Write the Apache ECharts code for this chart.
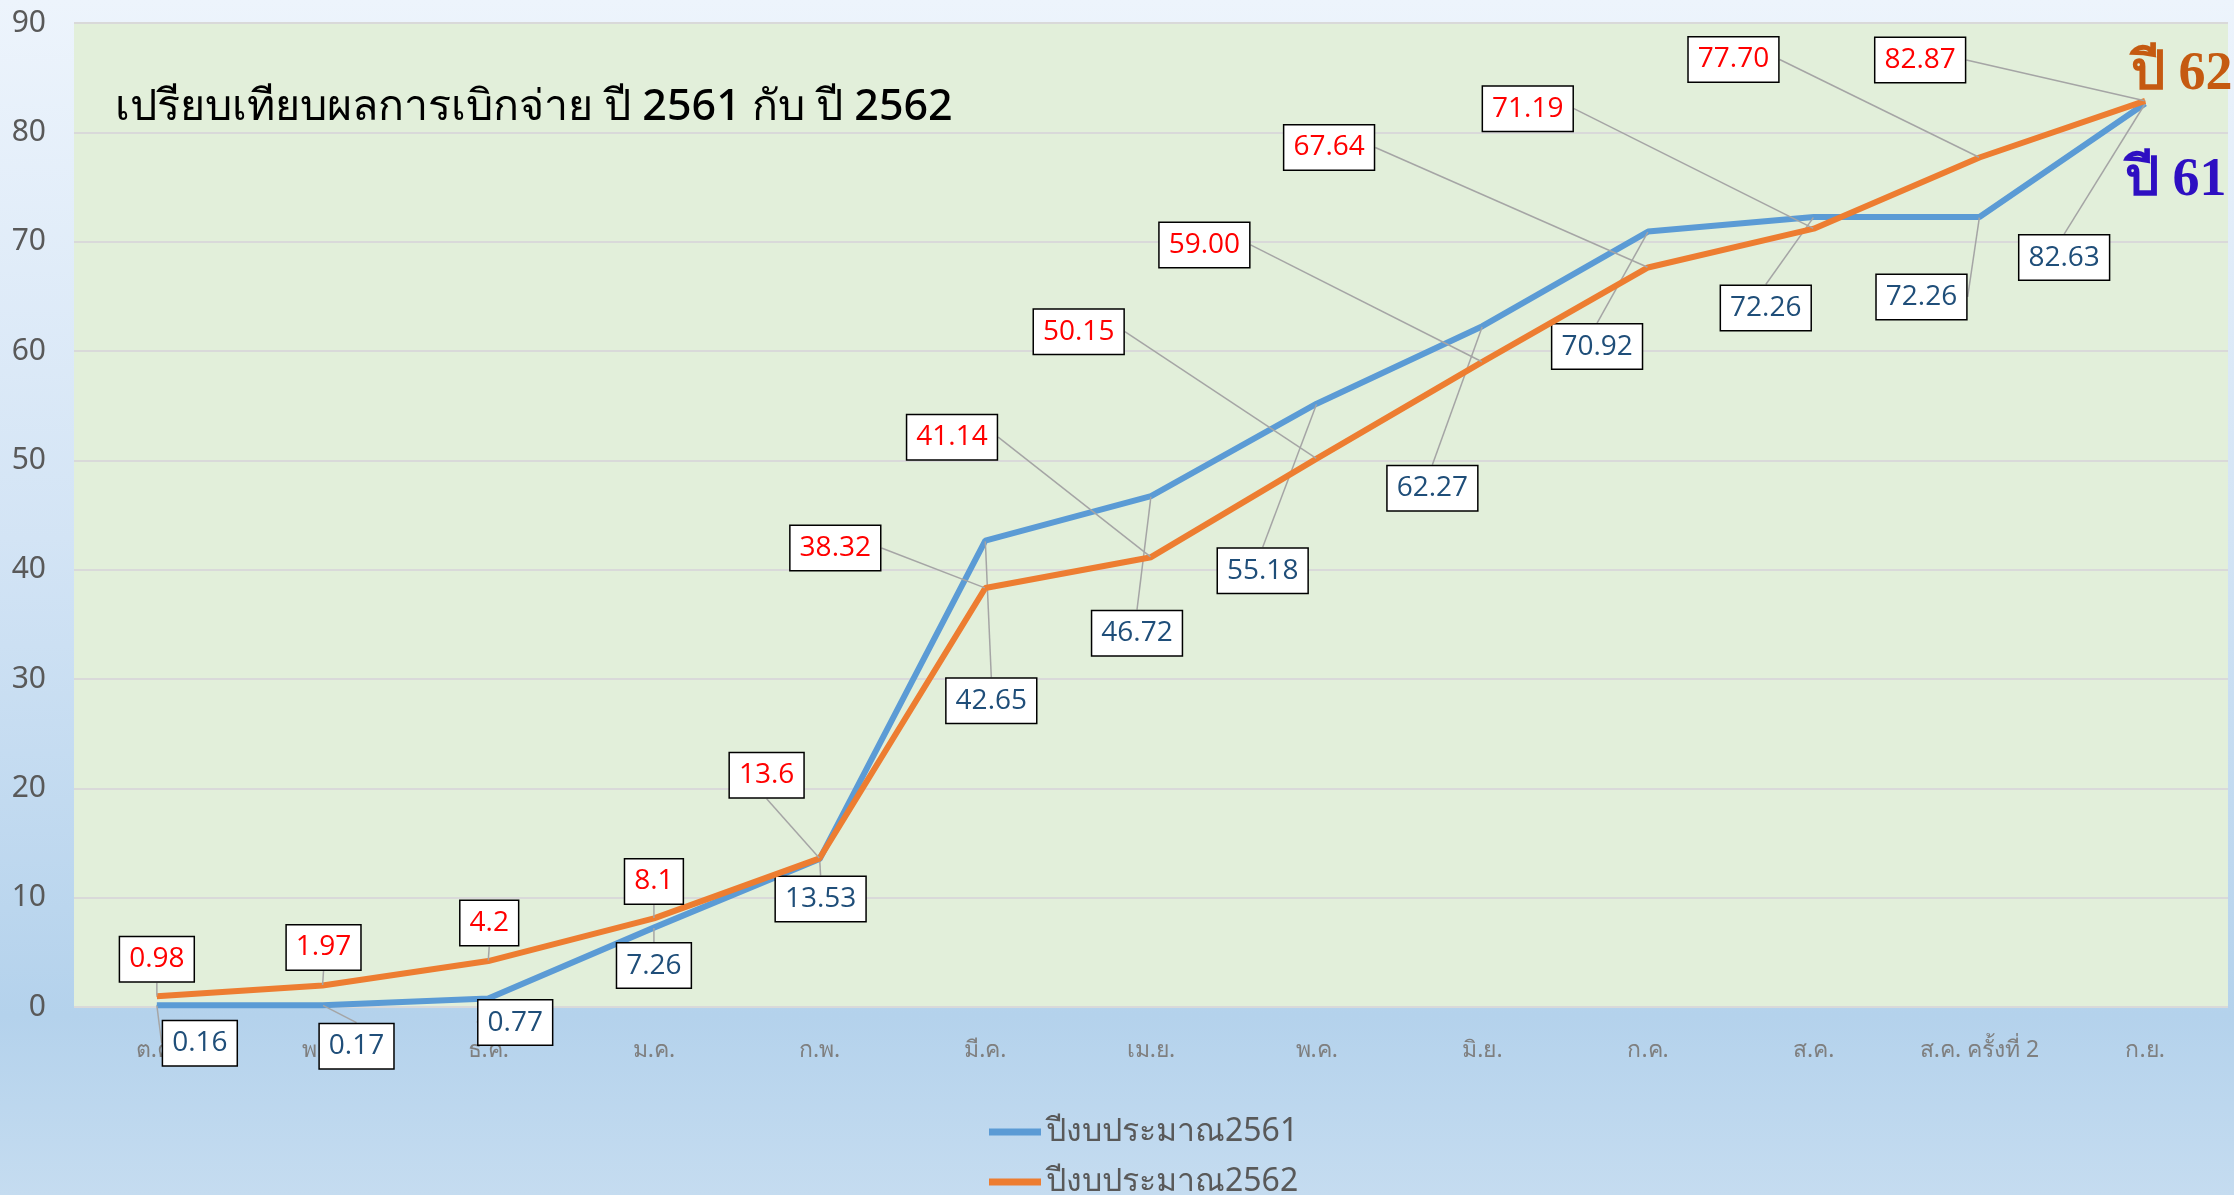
<!DOCTYPE html>
<html>
<head>
<meta charset="utf-8">
<script src="https://cdn.jsdelivr.net/npm/echarts@6/dist/echarts.min.js"></script>
<style>
html,body{margin:0;padding:0;}
#c{width:2234px;height:1195px;}
</style>
</head>
<body>
<div id="c"></div>
<script>
// ---- data ----
var categories = ['ต.ค.', 'พ.ย.', 'ธ.ค.', 'ม.ค.', 'ก.พ.', 'มี.ค.', 'เม.ย.', 'พ.ค.', 'มิ.ย.', 'ก.ค.', 'ส.ค.', 'ส.ค. ครั้งที่ 2', 'ก.ย.'];
var values2561 = ['0.16', '0.17', '0.77', '7.26', '13.53', '42.65', '46.72', '55.18', '62.27', '70.92', '72.26', '72.26', '82.63'];
var values2562 = ['0.98', '1.97', '4.2', '8.1', '13.6', '38.32', '41.14', '50.15', '59.00', '67.64', '71.19', '77.70', '82.87'];
var yTicks = [0, 10, 20, 30, 40, 50, 60, 70, 80, 90];
var seriesNames = ['ปีงบประมาณ2561', 'ปีงบประมาณ2562'];
var titleText = 'เปรียบเทียบผลการเบิกจ่าย ปี 2561 กับ ปี 2562';

// label offsets (layout, px)
var off2561 = [[43,38],[34,41],[27,24],[0,38],[1,40],[6,160],[-14,137],[-54,167],[-50,162],[-51,115],[-48,91],[-58,80],[-81,154]];
var off2562 = [[0,-37],[1,-38],[1,-38],[0,-37],[-53,-83],[-150,-40],[-199,-120],[-238,-127],[-278,-117],[-319,-120],[-286,-120],[-246,-98],[-225,-41]];

var FONT = '"Liberation Sans Narrow", "Noto Sans", "DejaVu Sans", sans-serif';
var chart = echarts.init(document.getElementById('c'));

function makeLabel(color){
  return {
    show: true,
    position: 'inside',
    formatter: function(p){ return String(p.data); },
    color: color,
    fontFamily: '"Open Sans", "Noto Sans", sans-serif',
    fontSize: 28,
    lineHeight: 30,
    backgroundColor: '#ffffff',
    borderColor: '#000000',
    borderWidth: 1.5,
    padding: [8, 9, 6, 9]
  };
}

var legendText = {fontFamily: FONT, fontSize: 32, color: '#595959'};

var option = {
  backgroundColor: {
    type: 'linear', x: 0, y: 0, x2: 0, y2: 1,
    colorStops: [
      {offset: 0, color: '#EDF4FC'},
      {offset: 0.45, color: '#D3E4F5'},
      {offset: 0.85, color: '#B4D2EC'},
      {offset: 1, color: '#C5DCF0'}
    ]
  },
  animation: false,
  title: {
    text: titleText,
    left: 110, top: 81,
    textStyle: {fontFamily: '"Noto Sans", sans-serif', fontSize: 43, fontWeight: 500, color: '#000'}
  },
  grid: {
    left: 74, right: 6, top: 23, bottom: 188,
    show: true, backgroundColor: '#E2EFDA', borderWidth: 0
  },
  legend: [
    {
      orient: 'vertical', left: 984, top: 1111,
      icon: 'rect', itemWidth: 52, itemHeight: 7,
      textStyle: legendText, data: [seriesNames[0]]
    },
    {
      orient: 'vertical', left: 984, top: 1161,
      icon: 'rect', itemWidth: 52, itemHeight: 7,
      textStyle: legendText, data: [seriesNames[1]]
    }
  ],
  xAxis: {
    type: 'category',
    data: categories,
    boundaryGap: true,
    axisLine: {show: false},
    axisTick: {show: false},
    axisLabel: {color: '#7F7F7F', fontSize: 23, fontFamily: FONT, margin: 32}
  },
  yAxis: {
    type: 'value',
    min: 0, max: 90, interval: 10,
    axisLine: {show: false},
    axisTick: {show: false},
    splitLine: {lineStyle: {color: '#D9D9D9', width: 2}},
    axisLabel: {color: '#595959', fontSize: 30, fontFamily: FONT, margin: 28,
      formatter: function(v){ return yTicks.indexOf(v) >= 0 ? String(v) : ''; }}
  },
  series: [
    {
      name: seriesNames[0], type: 'line', data: values2561,
      z: 3,
      symbol: 'circle', symbolSize: 1, showSymbol: true,
      lineStyle: {color: '#5B9BD5', width: 6},
      itemStyle: {color: '#5B9BD5'},
      label: makeLabel('#1F4E79'),
      labelLine: {show: true, lineStyle: {color: '#A5A5A5', width: 1.5}},
      labelLayout: function(p){ var o = off2561[p.dataIndex]; return {dx: o[0], dy: o[1], hideOverlap: false}; }
    },
    {
      name: seriesNames[1], type: 'line', data: values2562,
      z: 4,
      symbol: 'circle', symbolSize: 1, showSymbol: true,
      lineStyle: {color: '#ED7D31', width: 6},
      itemStyle: {color: '#ED7D31'},
      label: makeLabel('#FF0000'),
      labelLine: {show: true, lineStyle: {color: '#A5A5A5', width: 1.5}},
      labelLayout: function(p){ var o = off2562[p.dataIndex]; return {dx: o[0], dy: o[1], hideOverlap: false}; }
    }
  ],
  graphic: [
    {type: 'text', left: 2131, top: 48, z: 100,
     style: {text: 'ปี 62', fill: '#C55A11', font: 'bold 54px "Liberation Serif", "DejaVu Serif", serif'}},
    {type: 'text', left: 2125, top: 154, z: 100,
     style: {text: 'ปี 61', fill: '#2E0FC2', font: 'bold 54px "Liberation Serif", "DejaVu Serif", serif'}}
  ]
};
chart.setOption(option);
</script>
</body>
</html>
